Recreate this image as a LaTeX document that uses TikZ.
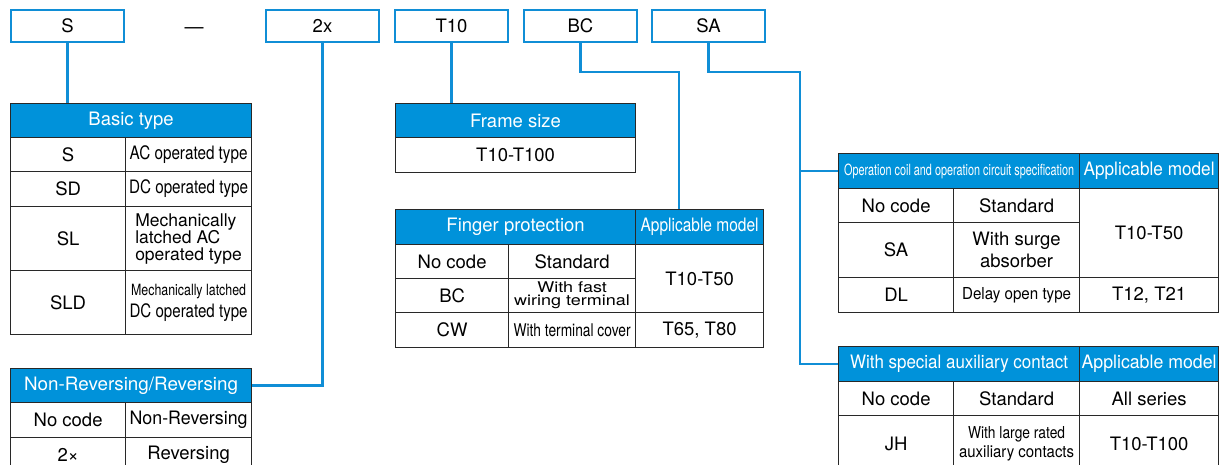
\documentclass[tikz,border=0pt]{standalone}
\usepackage{fontspec}
\setmainfont{TeX Gyre Heros}
\definecolor{codeblue}{RGB}{16,142,214}
\definecolor{hdrblue}{RGB}{0,146,218}
\definecolor{rulegray}{RGB}{40,40,40}
\newcommand{\sq}[2]{\resizebox{#1}{\height}{#2}}
\begin{document}
\begin{tikzpicture}[
    x=1pt, y=-1pt,
    code/.style={draw=codeblue, line width=2.6pt, minimum width=113pt,
                 minimum height=32pt, inner sep=0pt,
                 font=\fontsize{18.5}{20}\selectfont},
    cell/.style={draw=rulegray, line width=1.2pt, inner sep=0pt,
                 anchor=north west, align=center,
                 font=\fontsize{18.5}{20}\selectfont},
    hdr/.style={cell, fill=hdrblue, text=white},
    sz/.style 2 args={minimum width=#1pt, minimum height=#2pt},
    link/.style={draw=codeblue, line width=2.6pt}
  ]
  \useasboundingbox (0,0) rectangle (1227,465);
  \clip (0,0) rectangle (1227,465);
  % model code
  \node[code] (s) at (67.5,26) {S};
  \node[font=\fontsize{19}{20}\selectfont] (dash) at (194,31) {—};
  \node[code] (x2) at (322.5,26) {2x};
  \node[code] (t10) at (451.5,26) {T10};
  \node[code] (bc) at (580.5,26) {BC};
  \node[code] (sa) at (708.5,26) {SA};
  % basic type
  \node[hdr, sz={241}{34}] (bthead) at (10,103) {Basic type};
  \node[cell, sz={115}{34}] (bt-s) at (10,137) {S};
  \node[cell, sz={126}{34}] (bt-s-d) at (125,137) {\sq{118pt}{AC operated type}};
  \node[cell, sz={115}{35}] (bt-sd) at (10,171) {SD};
  \node[cell, sz={126}{35}] (bt-sd-d) at (125,171) {\sq{119pt}{DC operated type}};
  \node[cell, sz={115}{64}] (bt-sl) at (10,206) {SL};
  \node[cell, sz={126}{64}, align=left, font=\fontsize{17.5}{17}\selectfont]
    (bt-sl-d) at (125,206) {Mechanically\\latched AC\\operated type};
  \node[cell, sz={115}{64}] (bt-sld) at (10,270) {SLD};
  \node[cell, sz={126}{64}, font=\fontsize{18.5}{22}\selectfont] (bt-sld-d) at (125,270)
    {\sq{115pt}{\fontsize{15.5}{15}\selectfont Mechanically latched}\\\sq{118pt}{DC operated type}};
  % non-reversing / reversing
  \node[hdr, sz={241}{34}] (nrhead) at (10,368) {\sq{214pt}{Non-Reversing/Reversing}};
  \node[cell, sz={115}{35}] (nr-no) at (10,402) {No code};
  \node[cell, sz={126}{35}] (nr-no-d) at (125,402) {\sq{118pt}{Non-Reversing}};
  \node[cell, sz={115}{34}] (nr-2x) at (10,437) {2×};
  \node[cell, sz={126}{34}] (nr-2x-d) at (125,437) {Reversing};
  % frame size
  \node[hdr, sz={240}{34}] (fshead) at (395,103) {Frame size};
  \node[cell, sz={240}{35}] (fs-row) at (395,137) {T10-T100};
  % finger protection
  \node[hdr, sz={240}{35}] (fphead) at (395,209) {Finger protection};
  \node[hdr, sz={128}{35}] (fpapp) at (635,209) {\sq{118pt}{Applicable model}};
  \node[cell, sz={113}{34}] (fp-no) at (395,244) {No code};
  \node[cell, sz={127}{34}] (fp-no-d) at (508,244) {Standard};
  \node[cell, sz={113}{34}] (fp-bc) at (395,278) {BC};
  \node[cell, sz={127}{34}, font=\fontsize{18}{13}\selectfont] (fp-bc-d) at (508,278)
    {\scalebox{1}[0.82]{With fast}\\\scalebox{1}[0.82]{wiring terminal}};
  \node[cell, sz={113}{35}] (fp-cw) at (395,312) {CW};
  \node[cell, sz={127}{35}] (fp-cw-d) at (508,312)
    {\sq{117pt}{\fontsize{17.5}{17}\selectfont With terminal cover}};
  \node[cell, sz={128}{68}] (fp-m1) at (635,244) {T10-T50};
  \node[cell, sz={128}{35}] (fp-m2) at (635,312) {T65, T80};
  % operation coil
  \node[hdr, sz={241}{35}] (ochead) at (838,153)
    {\sq{230pt}{\fontsize{15.5}{15}\selectfont Operation coil and operation circuit specification}};
  \node[hdr, sz={139}{35}] (ocapp) at (1079,153) {\sq{131pt}{Applicable model}};
  \node[cell, sz={115}{34}] (oc-no) at (838,188) {No code};
  \node[cell, sz={126}{34}] (oc-no-d) at (953,188) {Standard};
  \node[cell, sz={115}{55}] (oc-sa) at (838,222) {SA};
  \node[cell, sz={126}{55}, font=\fontsize{18.5}{22}\selectfont] (oc-sa-d) at (953,222)
    {With surge\\absorber};
  \node[cell, sz={115}{35}] (oc-dl) at (838,277) {DL};
  \node[cell, sz={126}{35}] (oc-dl-d) at (953,277)
    {\sq{109pt}{\fontsize{16.5}{16}\selectfont Delay open type}};
  \node[cell, sz={139}{89}] (oc-m1) at (1079,188) {T10-T50};
  \node[cell, sz={139}{35}] (oc-m2) at (1079,277) {T12, T21};
  % special auxiliary contact
  \node[hdr, sz={241}{35}] (sxhead) at (838,346) {\sq{218pt}{With special auxiliary contact}};
  \node[hdr, sz={139}{35}] (sxapp) at (1079,346) {\sq{135pt}{Applicable model}};
  \node[cell, sz={115}{34}] (sx-no) at (838,381) {No code};
  \node[cell, sz={126}{34}] (sx-no-d) at (953,381) {Standard};
  \node[cell, sz={139}{34}] (sx-no-m) at (1079,381) {All series};
  \node[cell, sz={115}{56}] (sx-jh) at (838,415) {JH};
  \node[cell, sz={126}{56}, font=\fontsize{16.5}{19}\selectfont] (sx-jh-d) at (953,415)
    {\sq{97pt}{With large rated}\\\sq{115pt}{auxiliary contacts}};
  \node[cell, sz={139}{56}] (sx-jh-m) at (1079,415) {T10-T100};
  % connectors
  \coordinate (bcturn) at (679,72);
  \coordinate (saturn) at (800,72);
  \draw[link] (s.south) -- (s.south |- bthead.north);
  \draw[link] (x2.south) |- (nrhead.east);
  \draw[link] (t10.south) -- (t10.south |- fshead.north);
  \draw[link] (bc.south) |- (bcturn) -- (bcturn |- fpapp.north);
  \draw[link] (sa.south) |- (saturn) |- (sxhead.west);
  \draw[link] (saturn |- ochead.west) -- (ochead.west);
\end{tikzpicture}
\end{document}
